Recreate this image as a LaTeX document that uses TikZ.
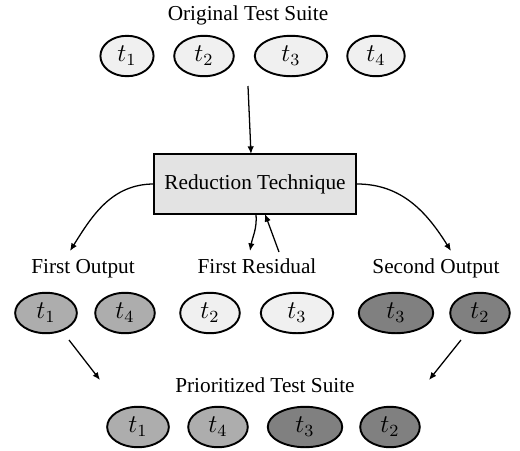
\documentclass[tikz,border=0pt]{standalone}
\usepackage{fontspec}
\setmainfont{Liberation Serif}
\usepackage{tikz}
\usetikzlibrary{arrows.meta,positioning,shapes.geometric}

\begin{document}
\begin{tikzpicture}[
  x=0.47pt,y=-0.47pt,
  tc/.style={ellipse,draw,line width=0.9pt,inner sep=0pt,
             minimum width=28pt,minimum height=19pt,font=\fontsize{11.5}{13}\selectfont},
  lite/.style={tc,fill=black!6},
  mid/.style={tc,fill=black!32},
  dark/.style={tc,fill=black!50},
  wide/.style={minimum width=34pt},
  ttl/.style={font=\normalsize,inner sep=1pt,text height=7pt,text depth=2.2pt},
  arr/.style={-{Latex[length=3.6pt,width=3pt]},semithick}
]
\useasboundingbox (0,0) rectangle (520,451);
% original suite
\node[ttl] (orig) at (248,15) {Original Test Suite};
\node[lite,minimum width=25pt] (o1) at (127,56) {$t_1$};
\node[lite] (o2) at (204,56) {$t_2$};
\node[lite,wide] (o3) at (291,56) {$t_3$};
\node[lite,minimum width=27pt] (o4) at (376,56) {$t_4$};
% reduction
\node[draw,line width=1.2pt,fill=black!11,minimum width=95pt,minimum height=28pt,
      font=\normalsize] (red) at (255,184) {Reduction Technique};
% outputs
\node[ttl] (fo) at (83,268) {First Output};
\node[ttl] (fr) at (257,268) {First Residual};
\node[ttl] (so) at (436,268) {Second Output};
\node[mid,minimum width=29pt] (f1) at (46,313) {$t_1$};
\node[mid] (f4) at (125,313) {$t_4$};
\node[lite] (r2) at (210,313) {$t_2$};
\node[lite,wide] (r3) at (297,313) {$t_3$};
\node[dark,minimum width=35pt] (s3) at (396,313) {$t_3$};
\node[dark] (s2) at (480,313) {$t_2$};
% prioritized suite
\node[ttl] (pri) at (265,387) {Prioritized Test Suite};
\node[mid,minimum width=29pt] (p1) at (138,427) {$t_1$};
\node[mid] (p4) at (218,427) {$t_4$};
\node[dark,minimum width=35pt] (p3) at (305,427) {$t_3$};
\node[dark] (p2) at (390,427) {$t_2$};
% free ends
\coordinate (origout) at (248,86);
\coordinate (redin) at (251,154);
\coordinate (foin) at (70,251);
\coordinate (soin) at (451,251);
\coordinate (frin) at (250,251);
\coordinate (frout) at (279,252);
\coordinate (redback) at (265,214);
\coordinate (redleft) at (154,184);
\coordinate (redright) at (357,184);
\coordinate (redbot) at (256,214);
\coordinate (fodown) at (69,340);
\coordinate (priin1) at (100,380);
\coordinate (sodown) at (461,340);
\coordinate (priin2) at (429,380);
% connectors
\draw[arr] (origout) -- (redin);
\draw[arr] (redleft) to[out=180,in=58] (foin);
\draw[arr] (redright) to[out=0,in=122] (soin);
\draw[arr] (redbot) to[out=-85,in=80] (frin);
\draw[arr] (frout) -- (redback);
\draw[arr] (fodown) -- (priin1);
\draw[arr] (sodown) -- (priin2);
\end{tikzpicture}
\end{document}
